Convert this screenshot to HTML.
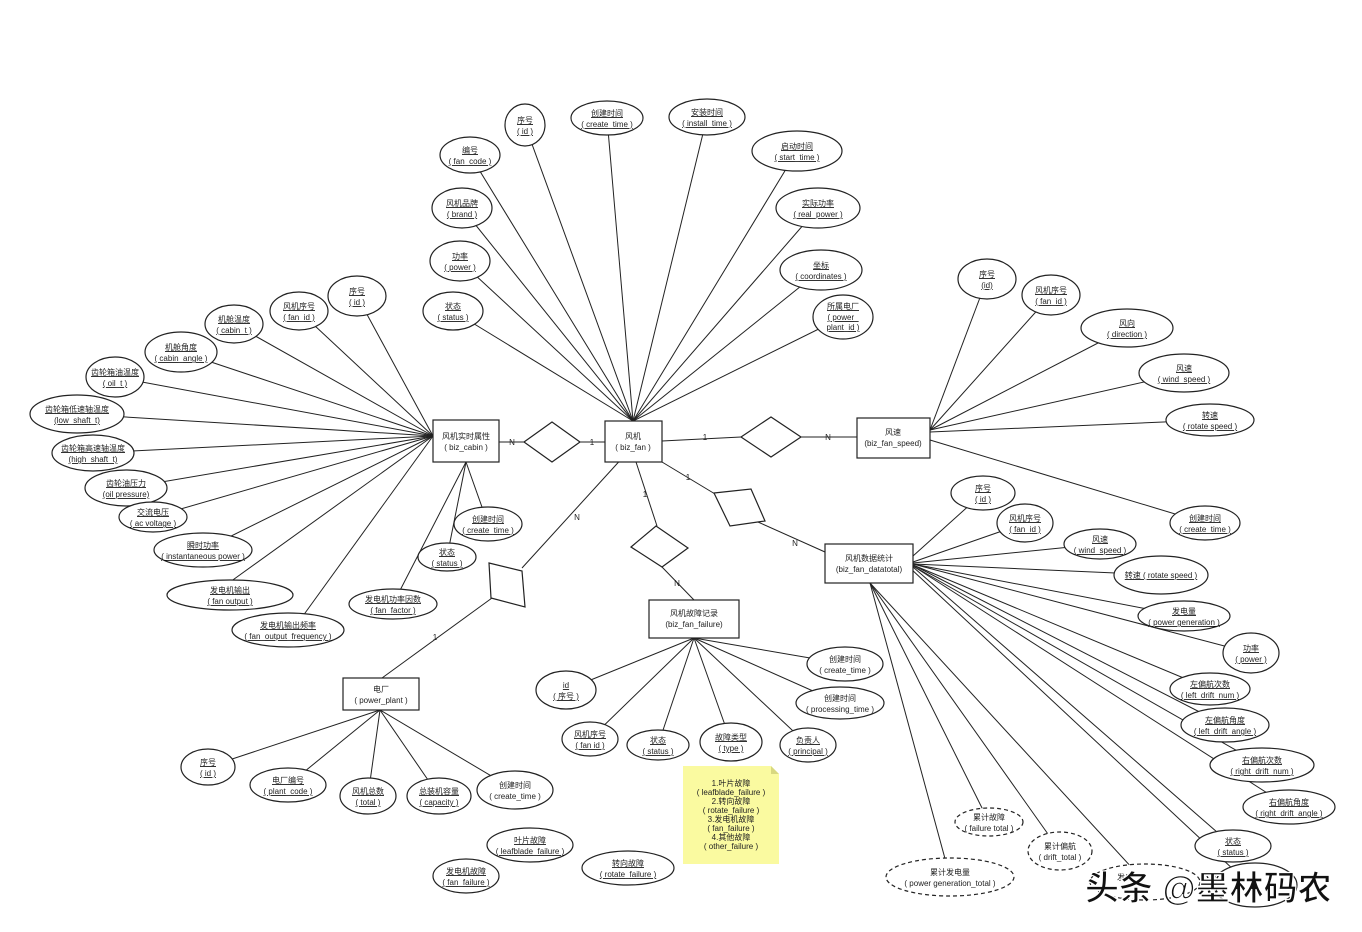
<!DOCTYPE html>
<html><head><meta charset="utf-8"><style>
html,body{margin:0;padding:0;background:#fff}
svg{display:block}
text{font-family:"Liberation Sans","Noto Sans CJK SC",sans-serif;font-size:8px;fill:#222;text-anchor:middle}
.u{text-decoration:underline}
ellipse{fill:#fff;stroke:#222;stroke-width:1.2}
.d{stroke-dasharray:4,3}
line,polyline{stroke:#222;stroke-width:1}
rect.e{fill:#fff;stroke:#222;stroke-width:1.2}
polygon.r{fill:#fff;stroke:#222;stroke-width:1.2}
.wm{font-size:34px;font-weight:bold;fill:#111;stroke:#fff;stroke-width:1.2;text-anchor:start}
</style></head><body>
<svg width="1362" height="932" viewBox="0 0 1362 932" xmlns="http://www.w3.org/2000/svg">
<!-- lines: fan attributes -->
<g>
<line x1="633" y1="421" x2="525" y2="125"/><line x1="633" y1="421" x2="470" y2="155"/>
<line x1="633" y1="421" x2="607" y2="118"/><line x1="633" y1="421" x2="707" y2="117"/>
<line x1="633" y1="421" x2="797" y2="151"/><line x1="633" y1="421" x2="462" y2="208"/>
<line x1="633" y1="421" x2="818" y2="208"/><line x1="633" y1="421" x2="460" y2="261"/>
<line x1="633" y1="421" x2="821" y2="270"/><line x1="633" y1="421" x2="453" y2="311"/>
<line x1="633" y1="421" x2="843" y2="317"/>
<!-- cabin -->
<line x1="433" y1="436" x2="357" y2="296"/><line x1="433" y1="436" x2="299" y2="311"/>
<line x1="433" y1="436" x2="234" y2="324"/><line x1="433" y1="436" x2="181" y2="352"/>
<line x1="433" y1="436" x2="115" y2="377"/><line x1="433" y1="436" x2="77" y2="414"/>
<line x1="433" y1="436" x2="93" y2="453"/><line x1="433" y1="436" x2="126" y2="488"/>
<line x1="433" y1="436" x2="153" y2="517"/><line x1="433" y1="436" x2="203" y2="550"/>
<line x1="433" y1="436" x2="230" y2="582"/><line x1="433" y1="436" x2="300" y2="620"/>
<line x1="466" y1="462" x2="393" y2="604"/><line x1="466" y1="462" x2="447" y2="557"/>
<line x1="466" y1="462" x2="488" y2="524"/>
<!-- speed -->
<line x1="930" y1="430" x2="987" y2="279"/><line x1="930" y1="430" x2="1051" y2="295"/>
<line x1="930" y1="430" x2="1127" y2="328"/><line x1="930" y1="430" x2="1184" y2="373"/>
<line x1="930" y1="432" x2="1210" y2="420"/><line x1="930" y1="440" x2="1205" y2="523"/>
<!-- datatotal -->
<line x1="913" y1="556" x2="983" y2="493"/><line x1="913" y1="562" x2="1025" y2="523"/>
<line x1="913" y1="563" x2="1100" y2="544"/><line x1="913" y1="564" x2="1161" y2="575"/>
<line x1="913" y1="564" x2="1184" y2="616"/><line x1="913" y1="564" x2="1251" y2="653"/>
<line x1="913" y1="565" x2="1210" y2="689"/><line x1="913" y1="565" x2="1225" y2="725"/>
<line x1="913" y1="566" x2="1262" y2="765"/><line x1="913" y1="566" x2="1289" y2="807"/>
<line x1="913" y1="567" x2="1233" y2="846"/><line x1="910" y1="568" x2="1250" y2="885"/>
<line x1="870" y1="583" x2="1145" y2="882"/><line x1="870" y1="583" x2="1060" y2="851"/>
<line x1="870" y1="583" x2="989" y2="822"/><line x1="870" y1="583" x2="950" y2="877"/>
<!-- failure -->
<line x1="694" y1="638" x2="566" y2="690"/><line x1="694" y1="638" x2="590" y2="739"/>
<line x1="694" y1="638" x2="658" y2="745"/><line x1="694" y1="638" x2="731" y2="742"/>
<line x1="694" y1="638" x2="808" y2="745"/><line x1="694" y1="638" x2="845" y2="664"/>
<line x1="694" y1="638" x2="840" y2="703"/>
<!-- plant -->
<line x1="380" y1="710" x2="208" y2="767"/><line x1="380" y1="710" x2="288" y2="785"/>
<line x1="380" y1="710" x2="368" y2="796"/><line x1="380" y1="710" x2="439" y2="796"/>
<line x1="380" y1="710" x2="515" y2="790"/>
<!-- relationships -->
<line x1="499" y1="442" x2="524" y2="442"/><line x1="580" y1="442" x2="605" y2="442"/>
<line x1="662" y1="441" x2="741" y2="437"/><line x1="801" y1="437" x2="857" y2="437"/>
<line x1="662" y1="462" x2="725" y2="500"/><line x1="758" y1="522" x2="825" y2="552"/>
<line x1="636" y1="462" x2="657" y2="526"/><line x1="662" y1="567" x2="694" y2="600"/>
<line x1="625" y1="455" x2="522" y2="568"/><line x1="492" y1="598" x2="382" y2="678"/>
</g>
<!-- diamonds -->
<polygon class="r" points="524,442 552,422 580,442 552,462"/>
<polygon class="r" points="741,437 771,417 801,437 771,457"/>
<polygon class="r" points="714,493 751,489 765,521 730,526"/>
<polygon class="r" points="631,547 656,526 688,548 662,567"/>
<polygon class="r" points="489,563 522,571 525,607 491,598"/>
<text x="512" y="445">N</text><text x="592" y="445">1</text>
<text x="705" y="440">1</text><text x="828" y="440">N</text>
<text x="688" y="480">1</text><text x="795" y="546">N</text>
<text x="645" y="497">1</text><text x="677" y="586">N</text>
<text x="577" y="520">N</text><text x="435" y="640">1</text>
<!-- entities -->
<rect class="e" x="605" y="421" width="57" height="41"/><text x="633" y="439">风机</text><text x="633" y="450">( biz_fan )</text>
<rect class="e" x="433" y="420" width="66" height="42"/><text x="466" y="439">风机实时属性</text><text x="466" y="450">( biz_cabin )</text>
<rect class="e" x="857" y="418" width="73" height="40"/><text x="893" y="435">风速</text><text x="893" y="446">(biz_fan_speed)</text>
<rect class="e" x="825" y="544" width="88" height="39"/><text x="869" y="561">风机数据统计</text><text x="869" y="572">(biz_fan_datatotal)</text>
<rect class="e" x="649" y="600" width="90" height="38"/><text x="694" y="616">风机故障记录</text><text x="694" y="627">(biz_fan_failure)</text>
<rect class="e" x="343" y="678" width="76" height="32"/><text x="381" y="692">电厂</text><text x="381" y="703">( power_plant )</text>
<!-- fan attrs -->
<g class="u">
<ellipse cx="525" cy="125" rx="20" ry="21"/><text x="525" y="123">序号</text><text x="525" y="134">( id )</text>
<ellipse cx="470" cy="155" rx="30" ry="18"/><text x="470" y="153">编号</text><text x="470" y="164">( fan_code )</text>
<ellipse cx="607" cy="118" rx="36" ry="17"/><text x="607" y="116">创建时间</text><text x="607" y="127">( create_time )</text>
<ellipse cx="707" cy="117" rx="38" ry="18"/><text x="707" y="115">安装时间</text><text x="707" y="126">( install_time )</text>
<ellipse cx="797" cy="151" rx="45" ry="20"/><text x="797" y="149">启动时间</text><text x="797" y="160">( start_time )</text>
<ellipse cx="462" cy="208" rx="30" ry="20"/><text x="462" y="206">风机品牌</text><text x="462" y="217">( brand )</text>
<ellipse cx="818" cy="208" rx="42" ry="20"/><text x="818" y="206">实际功率</text><text x="818" y="217">( real_power )</text>
<ellipse cx="460" cy="261" rx="30" ry="20"/><text x="460" y="259">功率</text><text x="460" y="270">( power )</text>
<ellipse cx="821" cy="270" rx="41" ry="20"/><text x="821" y="268">坐标</text><text x="821" y="279">( coordinates )</text>
<ellipse cx="453" cy="311" rx="30" ry="19"/><text x="453" y="309">状态</text><text x="453" y="320">( status )</text>
<ellipse cx="843" cy="317" rx="30" ry="22"/><text x="843" y="309">所属电厂</text><text x="843" y="320">( power_</text><text x="843" y="330">plant_id )</text>
<!-- cabin attrs -->
<ellipse cx="357" cy="296" rx="29" ry="20"/><text x="357" y="294">序号</text><text x="357" y="305">( id )</text>
<ellipse cx="299" cy="311" rx="29" ry="19"/><text x="299" y="309">风机序号</text><text x="299" y="320">( fan_id )</text>
<ellipse cx="234" cy="324" rx="29" ry="19"/><text x="234" y="322">机舱温度</text><text x="234" y="333">( cabin_t )</text>
<ellipse cx="181" cy="352" rx="36" ry="20"/><text x="181" y="350">机舱角度</text><text x="181" y="361">( cabin_angle )</text>
<ellipse cx="115" cy="377" rx="29" ry="20"/><text x="115" y="375">齿轮箱油温度</text><text x="115" y="386">( oil_t )</text>
<ellipse cx="77" cy="414" rx="47" ry="19"/><text x="77" y="412">齿轮箱低速轴温度</text><text x="77" y="423">(low_shaft_t)</text>
<ellipse cx="93" cy="453" rx="41" ry="18"/><text x="93" y="451">齿轮箱高速轴温度</text><text x="93" y="462">(high_shaft_t)</text>
<ellipse cx="126" cy="488" rx="41" ry="18"/><text x="126" y="486">齿轮油压力</text><text x="126" y="497">(oil pressure)</text>
<ellipse cx="153" cy="517" rx="34" ry="15"/><text x="153" y="515">交流电压</text><text x="153" y="526">( ac voltage )</text>
<ellipse cx="203" cy="550" rx="49" ry="17"/><text x="203" y="548">瞬时功率</text><text x="203" y="559">( instantaneous power )</text>
<ellipse cx="230" cy="595" rx="63" ry="15"/><text x="230" y="593">发电机输出</text><text x="230" y="604">( fan output )</text>
<ellipse cx="288" cy="630" rx="56" ry="17"/><text x="288" y="628">发电机输出频率</text><text x="288" y="639">( fan_output_frequency )</text>
<ellipse cx="393" cy="604" rx="44" ry="15"/><text x="393" y="602">发电机功率因数</text><text x="393" y="613">( fan_factor )</text>
<ellipse cx="447" cy="557" rx="29" ry="14"/><text x="447" y="555">状态</text><text x="447" y="566">( status )</text>
<ellipse cx="488" cy="524" rx="34" ry="17"/><text x="488" y="522">创建时间</text><text x="488" y="533">( create_time )</text>
<!-- speed attrs -->
<ellipse cx="987" cy="279" rx="29" ry="20"/><text x="987" y="277">序号</text><text x="987" y="288">(id)</text>
<ellipse cx="1051" cy="295" rx="29" ry="20"/><text x="1051" y="293">风机序号</text><text x="1051" y="304">( fan_id )</text>
<ellipse cx="1127" cy="328" rx="46" ry="19"/><text x="1127" y="326">风向</text><text x="1127" y="337">( direction )</text>
<ellipse cx="1184" cy="373" rx="45" ry="19"/><text x="1184" y="371">风速</text><text x="1184" y="382">( wind_speed )</text>
<ellipse cx="1210" cy="420" rx="44" ry="16"/><text x="1210" y="418">转速</text><text x="1210" y="429">( rotate speed )</text>
<ellipse cx="1205" cy="523" rx="35" ry="17"/><text x="1205" y="521">创建时间</text><text x="1205" y="532">( create_time )</text>
<!-- datatotal attrs -->
<ellipse cx="983" cy="493" rx="32" ry="17"/><text x="983" y="491">序号</text><text x="983" y="502">( id )</text>
<ellipse cx="1025" cy="523" rx="28" ry="19"/><text x="1025" y="521">风机序号</text><text x="1025" y="532">( fan_id )</text>
<ellipse cx="1100" cy="544" rx="36" ry="15"/><text x="1100" y="542">风速</text><text x="1100" y="553">( wind_speed )</text>
<ellipse cx="1161" cy="575" rx="47" ry="19"/><text x="1161" y="578">转速 ( rotate speed )</text>
<ellipse cx="1184" cy="616" rx="46" ry="15"/><text x="1184" y="614">发电量</text><text x="1184" y="625">( power generation )</text>
<ellipse cx="1251" cy="653" rx="28" ry="20"/><text x="1251" y="651">功率</text><text x="1251" y="662">( power )</text>
<ellipse cx="1210" cy="689" rx="40" ry="16"/><text x="1210" y="687">左偏航次数</text><text x="1210" y="698">( left_drift_num )</text>
<ellipse cx="1225" cy="725" rx="44" ry="17"/><text x="1225" y="723">左偏航角度</text><text x="1225" y="734">( left_drift_angle )</text>
<ellipse cx="1262" cy="765" rx="52" ry="17"/><text x="1262" y="763">右偏航次数</text><text x="1262" y="774">( right_drift_num )</text>
<ellipse cx="1289" cy="807" rx="46" ry="17"/><text x="1289" y="805">右偏航角度</text><text x="1289" y="816">( right_drift_angle )</text>
<ellipse cx="1233" cy="846" rx="38" ry="16"/><text x="1233" y="844">状态</text><text x="1233" y="855">( status )</text>
<ellipse cx="1255" cy="885" rx="42" ry="22"/>
</g>
<g>
<ellipse class="d" cx="989" cy="822" rx="34" ry="14"/><text x="989" y="820">累计故障</text><text x="989" y="831">( failure total )</text>
<ellipse class="d" cx="1060" cy="851" rx="32" ry="19"/><text x="1060" y="849">累计偏航</text><text x="1060" y="860">( drift_total )</text>
<ellipse class="d" cx="950" cy="877" rx="64" ry="19"/><text x="950" y="875">累计发电量</text><text x="950" y="886">( power generation_total )</text>
<ellipse class="d" cx="1145" cy="882" rx="55" ry="18"/><text x="1125" y="880">发电</text>
</g>
<!-- failure attrs -->
<g class="u">
<ellipse cx="566" cy="690" rx="30" ry="19"/><text x="566" y="688">id</text><text x="566" y="699">( 序号 )</text>
<ellipse cx="590" cy="739" rx="28" ry="17"/><text x="590" y="737">风机序号</text><text x="590" y="748">( fan id )</text>
<ellipse cx="658" cy="745" rx="31" ry="15"/><text x="658" y="743">状态</text><text x="658" y="754">( status )</text>
<ellipse cx="731" cy="742" rx="31" ry="19"/><text x="731" y="740">故障类型</text><text x="731" y="751">( type )</text>
<ellipse cx="808" cy="745" rx="28" ry="17"/><text x="808" y="743">负责人</text><text x="808" y="754">( principal )</text>
</g>
<ellipse cx="845" cy="664" rx="38" ry="17"/><text x="845" y="662">创建时间</text><text x="845" y="673">( create_time )</text>
<ellipse cx="840" cy="703" rx="44" ry="16"/><text x="840" y="701">创建时间</text><text x="840" y="712">( processing_time )</text>
<!-- plant attrs -->
<g class="u">
<ellipse cx="208" cy="767" rx="27" ry="18"/><text x="208" y="765">序号</text><text x="208" y="776">( id )</text>
<ellipse cx="288" cy="785" rx="38" ry="17"/><text x="288" y="783">电厂编号</text><text x="288" y="794">( plant_code )</text>
<ellipse cx="368" cy="796" rx="28" ry="18"/><text x="368" y="794">风机总数</text><text x="368" y="805">( total )</text>
<ellipse cx="439" cy="796" rx="32" ry="18"/><text x="439" y="794">总装机容量</text><text x="439" y="805">( capacity )</text>
</g>
<ellipse cx="515" cy="790" rx="38" ry="19"/><text x="515" y="788">创建时间</text><text x="515" y="799">( create_time )</text>
<!-- standalone -->
<g class="u">
<ellipse cx="530" cy="845" rx="43" ry="17"/><text x="530" y="843">叶片故障</text><text x="530" y="854">( leafblade_failure )</text>
<ellipse cx="466" cy="876" rx="33" ry="17"/><text x="466" y="874">发电机故障</text><text x="466" y="885">( fan_failure )</text>
<ellipse cx="628" cy="868" rx="46" ry="17"/><text x="628" y="866">转向故障</text><text x="628" y="877">( rotate_failure )</text>
</g>
<!-- note -->
<polygon points="683,766 771,766 779,774 779,864 683,864" fill="#fafaa0"/>
<polygon points="771,766 779,774 771,774" fill="#d8d880"/>
<text x="731" y="786">1.叶片故障</text><text x="731" y="795">( leafblade_failure )</text>
<text x="731" y="804">2.转向故障</text><text x="731" y="813">( rotate_failure )</text>
<text x="731" y="822">3.发电机故障</text><text x="731" y="831">( fan_failure )</text>
<text x="731" y="840">4.其他故障</text><text x="731" y="849">( other_failure )</text>
<!-- watermark -->
<text class="wm" x="1085" y="900">头条 @墨林码农</text>
</svg>
</body></html>
